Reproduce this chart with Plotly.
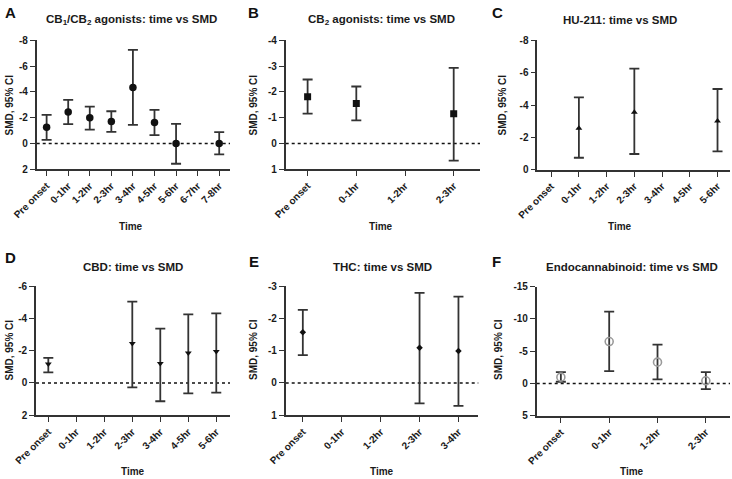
import plotly.graph_objects as go

# ---------------- data (SMD with 95% CI) ----------------
a_times = ["Pre onset", "0-1hr", "1-2hr", "2-3hr", "3-4hr", "4-5hr", "5-6hr", "6-7hr", "7-8hr"]
a_smd = [-1.26, -2.45, -1.99, -1.70, -4.34, -1.63, 0.0, None, 0.0]
a_lo = [-2.22, -3.38, -2.86, -2.50, -7.25, -2.61, -1.52, None, -0.88]
a_hi = [-0.28, -1.50, -1.08, -0.90, -1.45, -0.65, 1.57, None, 0.85]

b_times = ["Pre onset", "0-1hr", "1-2hr", "2-3hr"]
b_smd = [-1.81, -1.55, None, -1.15]
b_lo = [-2.48, -2.21, None, -2.93]
b_hi = [-1.16, -0.90, None, 0.66]

c_times = ["Pre onset", "0-1hr", "1-2hr", "2-3hr", "3-4hr", "4-5hr", "5-6hr"]
c_smd = [None, -2.56, None, -3.55, None, None, -3.01]
c_lo = [None, -4.47, None, -6.25, None, None, -4.99]
c_hi = [None, -0.74, None, -0.97, None, None, -1.13]

d_times = ["Pre onset", "0-1hr", "1-2hr", "2-3hr", "3-4hr", "4-5hr", "5-6hr"]
d_smd = [-1.18, None, None, -2.45, -1.20, -1.86, -1.94]
d_lo = [-1.55, None, None, -5.03, -3.36, -4.25, -4.31]
d_hi = [-0.66, None, None, 0.27, 1.13, 0.64, 0.60]

e_times = ["Pre onset", "0-1hr", "1-2hr", "2-3hr", "3-4hr"]
e_smd = [-1.57, None, None, -1.09, -0.99]
e_lo = [-2.26, None, None, -2.79, -2.67]
e_hi = [-0.86, None, None, 0.63, 0.71]

f_times = ["Pre onset", "0-1hr", "1-2hr", "2-3hr"]
f_smd = [-0.98, -6.50, -3.30, -0.41]
f_lo = [-1.75, -11.13, -6.03, -1.75]
f_hi = [-0.26, -1.90, -0.62, 0.88]

titles = ["CB<sub>1</sub>/CB<sub>2</sub> agonists: time vs SMD", "CB<sub>2</sub> agonists: time vs SMD",
          "HU-211: time vs SMD", "CBD: time vs SMD", "THC: time vs SMD",
          "Endocannabinoid: time vs SMD"]
letters = ["A", "B", "C", "D", "E", "F"]
y_ticks = [[-8, -6, -4, -2, 0, 2], [-4, -3, -2, -1, 0, 1], [-8, -6, -4, -2, 0],
           [-6, -4, -2, 0, 2], [-3, -2, -1, 0, 1], [-15, -10, -5, 0, 5]]

# ---------------- layout geometry (pixels) ----------------
W, H = 732, 479
panels = [
    dict(times=a_times, smd=a_smd, lo=a_lo, hi=a_hi, sym="circle", size=7.5,
         px=(36.7, 230), py=(40.3, 169.3), xr=(-0.46, 8.5)),
    dict(times=b_times, smd=b_smd, lo=b_lo, hi=b_hi, sym="square", size=7,
         px=(285.7, 480), py=(40.3, 169.3), xr=(-0.45, 3.54)),
    dict(times=c_times, smd=c_smd, lo=c_lo, hi=c_hi, sym="triangle-up", size=6,
         px=(537.3, 730), py=(40.3, 169.7), xr=(-0.5, 6.45)),
    dict(times=d_times, smd=d_smd, lo=d_lo, hi=d_hi, sym="triangle-down", size=6,
         px=(36, 230), py=(286, 415.3), xr=(-0.44, 6.49)),
    dict(times=e_times, smd=e_smd, lo=e_lo, hi=e_hi, sym="diamond", size=5,
         px=(285.7, 478.3), py=(286, 415.3), xr=(-0.44, 4.51)),
    dict(times=f_times, smd=f_smd, lo=f_lo, hi=f_hi, sym="circle-open", size=8,
         px=(536.7, 730), py=(286.7, 415.7), xr=(-0.5, 3.5)),
]
title_pos = [(131, 20.5), (381, 20.5), (620, 20.5), (133, 266.5), (382, 266.5), (632, 266.5)]
time_pos = [(131, 226), (381, 226), (620, 226), (133, 471), (382, 471), (632, 471)]
ytitle_pos = [(8.5, 105), (252.5, 105), (501.5, 105), (8.5, 350), (253, 350), (498, 350)]
letter_pos = [(3, 2), (246, 2), (490, 2), (3, 247), (247, 251), (490, 251)]

FONT = "Arial, Liberation Sans, Helvetica, sans-serif"
TXT = "#1a1a1a"
LINE = "#333333"

fig = go.Figure()
layout = dict(width=W, height=H, autosize=False, margin=dict(l=0, r=0, t=0, b=0, pad=0),
              paper_bgcolor="white", plot_bgcolor="white", showlegend=False,
              font=dict(family=FONT, color=TXT))
annotations = []
shapes = []

for i, p in enumerate(panels):
    n = "" if i == 0 else str(i + 1)
    xs, ys, plus, minus = [], [], [], []
    for t, v, lo, hi in zip(p["times"], p["smd"], p["lo"], p["hi"]):
        if v is None:
            continue
        xs.append(t)
        ys.append(v)
        plus.append(hi - v)
        minus.append(v - lo)
    mk = dict(symbol=p["sym"], size=p["size"], color="#111111")
    if p["sym"] == "circle-open":
        mk = dict(symbol="circle-open", size=p["size"], color="#9a9a9a", line=dict(width=1.6, color="#9a9a9a"))
    fig.add_trace(go.Scatter(
        x=xs, y=ys, mode="markers", marker=mk, xaxis="x" + n, yaxis="y" + n,
        error_y=dict(type="data", symmetric=False, array=plus, arrayminus=minus,
                     color=LINE, thickness=1.8, width=5),
        hoverinfo="x+y"))
    yt = y_ticks[i]
    layout["xaxis" + n] = dict(
        domain=[p["px"][0] / W, p["px"][1] / W], anchor="y" + n, automargin=False,
        type="category", categoryorder="array", categoryarray=p["times"],
        tickmode="array", tickvals=p["times"], ticktext=p["times"],
        range=list(p["xr"]), showline=True, linecolor=LINE, linewidth=1.6,
        ticks="outside", ticklen=5, tickwidth=1.4, tickcolor=LINE,
        tickangle=-45, tickfont=dict(size=10, family=FONT, color=TXT, weight="bold"),
        showgrid=False, zeroline=False, fixedrange=True)
    layout["yaxis" + n] = dict(
        domain=[1 - p["py"][1] / H, 1 - p["py"][0] / H], anchor="x" + n, automargin=False,
        range=[max(yt), min(yt)], tickmode="array", tickvals=yt,
        ticktext=[str(v) for v in yt],
        showline=True, linecolor=LINE, linewidth=1.6,
        ticks="outside", ticklen=5, tickwidth=1.4, tickcolor=LINE,
        tickfont=dict(size=10, family=FONT, color=TXT, weight="bold"),
        showgrid=False, zeroline=False, fixedrange=True)
    if max(yt) > 0:
        shapes.append(dict(type="line", xref="x" + n + " domain", yref="y" + n,
                           x0=0, x1=1, y0=0, y1=0,
                           line=dict(color="#111111", width=1.5, dash="dot"), layer="below"))
    tx, ty = title_pos[i]
    annotations.append(dict(text=titles[i], x=tx / W, y=1 - ty / H, xref="paper", yref="paper",
                            showarrow=False, xanchor="center", yanchor="middle",
                            font=dict(size=11.5, family=FONT, color=TXT, weight="bold")))
    tx, ty = time_pos[i]
    annotations.append(dict(text="Time", x=tx / W, y=1 - ty / H, xref="paper", yref="paper",
                            showarrow=False, xanchor="center", yanchor="middle",
                            font=dict(size=10, family=FONT, color=TXT, weight="bold")))
    tx, ty = ytitle_pos[i]
    annotations.append(dict(text="SMD, 95% CI", x=tx / W, y=1 - ty / H, xref="paper", yref="paper",
                            showarrow=False, xanchor="center", yanchor="middle", textangle=-90,
                            font=dict(size=10, family=FONT, color=TXT, weight="bold")))
    tx, ty = letter_pos[i]
    annotations.append(dict(text=letters[i], x=tx / W, y=1 - ty / H, xref="paper", yref="paper",
                            showarrow=False, xanchor="left", yanchor="top",
                            font=dict(size=15, family=FONT, color="#111111", weight="bold")))

layout["annotations"] = annotations
layout["shapes"] = shapes
fig.update_layout(**layout)
fig.write_html("out.html", config={"responsive": False, "displayModeBar": False},
               post_script="document.body.style.margin='0';document.body.style.padding='0';"
                           "document.documentElement.style.overflow='hidden';")
